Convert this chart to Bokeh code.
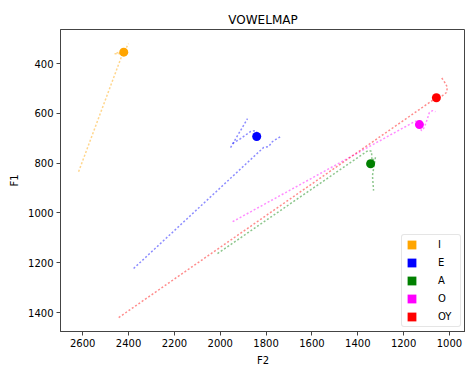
from bokeh.plotting import figure
from bokeh.models import Range1d, FixedTicker, Legend, LegendItem
from bokeh.embed import file_html
from bokeh.resources import INLINE

# ---------------- data ----------------
vowels = ["I", "E", "A", "O", "OY"]
colors = ["orange", "blue", "green", "magenta", "red"]

mean_f2 = [2421, 1841, 1344, 1131, 1057]
mean_f1 = [354, 693, 802, 645, 537]

# formant tracks (F2, F1) per token
I_t1_f2 = [2618, 2426, 2461, 2417, 2400]
I_t1_f1 = [834, 360, 360, 348, 320]

E_t1_f2 = [2378, 1811, 1789, 1772, 1737]
E_t1_f1 = [1223, 737, 733, 713, 693]
E_t2_f2 = [1955, 1881]
E_t2_f1 = [737, 621]
E_t3_f2 = [1946, 1911, 1868, 1846, 1833]
E_t3_f1 = [721, 701, 673, 669, 685]

A_t1_f2 = [2012, 1355, 1340, 1338, 1323, 1336, 1331]
A_t1_f1 = [1163, 749, 752, 790, 777, 850, 910]

O_t1_f2 = [1946, 1152, 1140, 1122, 1110, 1096, 1088, 1074, 1061]
O_t1_f1 = [1035, 633, 629, 670, 657, 621, 597, 589, 593]

OY_t1_f2 = [2443, 1057, 1031, 1013, 1009, 1017, 1035]
OY_t1_f1 = [1420, 537, 529, 516, 496, 480, 456]

tracks = {
    "I": [(I_t1_f2, I_t1_f1)],
    "E": [(E_t1_f2, E_t1_f1), (E_t2_f2, E_t2_f1), (E_t3_f2, E_t3_f1)],
    "A": [(A_t1_f2, A_t1_f1)],
    "O": [(O_t1_f2, O_t1_f1)],
    "OY": [(OY_t1_f2, OY_t1_f1)],
}

x_ticks = [2600, 2400, 2200, 2000, 1800, 1600, 1400, 1200, 1000]
y_ticks = [400, 600, 800, 1000, 1200, 1400]

FONT = "DejaVu Sans"

p = figure(width=465, height=369, output_backend="svg", toolbar_location=None,
           x_range=Range1d(2697, 930), y_range=Range1d(1476, 263),
           title="VOWELMAP",
           min_border_left=60, min_border_right=0, min_border_top=29,
           min_border_bottom=38)

p.title.align = "center"
p.title.text_font = FONT
p.title.text_font_size = "12px"
p.title.text_font_style = "normal"
p.title.text_color = "black"
p.title.standoff = 6

p.xgrid.visible = False
p.ygrid.visible = False
p.outline_line_color = "#444444"
p.outline_line_width = 1
p.background_fill_color = "white"
p.border_fill_color = "white"

for ax, ticks, lab in ((p.xaxis[0], x_ticks, "F2"), (p.yaxis[0], y_ticks, "F1")):
    ax.ticker = FixedTicker(ticks=ticks, minor_ticks=[])
    ax.axis_label = lab
    ax.axis_label_text_font = FONT
    ax.axis_label_text_font_size = "10px"
    ax.axis_label_text_font_style = "normal"
    ax.axis_label_text_color = "black"
    ax.major_label_text_font = FONT
    ax.major_label_text_font_size = "10px"
    ax.major_label_text_color = "black"
    ax.axis_line_color = "#444444"
    ax.major_tick_line_color = "#444444"
    ax.major_tick_in = 0
    ax.major_tick_out = 4
    ax.minor_tick_line_color = None
    ax.major_label_standoff = 3
    ax.axis_label_standoff = 5

legend_items = []
for v, c, mx, my in zip(vowels, colors, mean_f2, mean_f1):
    for f2, f1 in tracks[v]:
        p.line(f2, f1, line_color=c, line_alpha=0.45, line_width=1.5,
               line_dash="2 2")
    p.scatter([mx], [my], size=9, fill_color=c, line_color=None)
    # zero-size proxy at the mean point, used only for the legend swatch
    r = p.quad(left=[mx], right=[mx], top=[my], bottom=[my],
               fill_color=c, line_color=c, line_width=0.01)
    legend_items.append(LegendItem(label=v, renderers=[r]))

legend = Legend(items=legend_items, location="bottom_right")
legend.label_text_font = FONT
legend.label_text_font_size = "10px"
legend.label_text_color = "black"
legend.glyph_width = 11
legend.glyph_height = 11
legend.label_height = 11
legend.label_width = 18
legend.label_standoff = 21
legend.spacing = 7
legend.padding = 4
legend.margin = 4
legend.border_line_color = "#cccccc"
legend.border_radius = 3
legend.background_fill_alpha = 0.8
p.add_layout(legend)

open("out.html", "w").write(file_html(p, INLINE))
